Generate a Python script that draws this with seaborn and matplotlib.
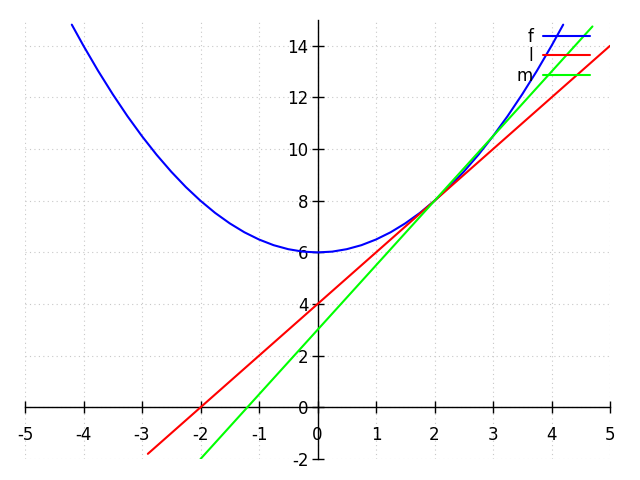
import numpy as np
import pandas as pd
import matplotlib
matplotlib.use("Agg")
import matplotlib.pyplot as plt
import seaborn as sns

# f: parabola
f_x = [-4.2, -4.0, -3.75, -3.5, -3.25, -3.0, -2.75, -2.5, -2.25, -2.0, -1.75, -1.5, -1.25, -1.0, -0.75, -0.5, -0.25,
       0.0, 0.25, 0.5, 0.75, 1.0, 1.25, 1.5, 1.75, 2.0, 2.25, 2.5, 2.75, 3.0, 3.25, 3.5, 3.75, 4.0, 4.2]
f_y = [14.82, 14.0, 13.03, 12.125, 11.28, 10.5, 9.78, 9.125, 8.53, 8.0, 7.53, 7.125, 6.78, 6.5, 6.28, 6.125, 6.03,
       6.0, 6.03, 6.125, 6.28, 6.5, 6.78, 7.125, 7.53, 8.0, 8.53, 9.125, 9.78, 10.5, 11.28, 12.125, 13.03, 14.0, 14.82]
# l: line (tangent)
l_x = [-2.9, 5.0]
l_y = [-1.8, 14.0]
# m: line (secant)
m_x = [-2.0, 4.7]
m_y = [-2.0, 14.75]

labels = ["f", "l", "m"]
colors = ["#0000ff", "#ff0000", "#00ff00"]

x_ticks = [-5, -4, -3, -2, -1, 0, 1, 2, 3, 4, 5]
y_ticks = [-2, 0, 2, 4, 6, 8, 10, 12, 14]

sns.set_style("white")
plt.rcParams['font.family'] = ['DejaVu Sans']
plt.rcParams['text.color'] = 'black'
plt.rcParams['xtick.color'] = 'black'
plt.rcParams['ytick.color'] = 'black'

fig = plt.figure(figsize=(6.4, 4.8), dpi=100)
ax = fig.add_axes([25/640, 1 - 459/480, 585/640, 439/480])

df = pd.concat([
    pd.DataFrame({"x": f_x, "y": f_y, "s": "f"}),
    pd.DataFrame({"x": l_x, "y": l_y, "s": "l"}),
    pd.DataFrame({"x": m_x, "y": m_y, "s": "m"}),
])
sns.lineplot(data=df, x="x", y="y", hue="s", palette=dict(zip(labels, colors)),
             sort=False, estimator=None, linewidth=1.5, ax=ax)

ax.set_xlim(-5, 5)
ax.set_ylim(-2, 15)
ax.set_xticks(x_ticks)
ax.set_yticks(y_ticks)
ax.set_xticklabels([str(v) for v in x_ticks])
ax.set_yticklabels([str(v) for v in y_ticks])
ax.set_xlabel("")
ax.set_ylabel("")

# grid
for xv in x_ticks:
    ax.axvline(xv, color="#c8c8c8", linestyle=(0, (1, 3)), linewidth=0.8, zorder=0)
for yv in y_ticks:
    ax.axhline(yv, color="#c8c8c8", linestyle=(0, (1, 3)), linewidth=0.8, zorder=0)

for s in ["top", "right"]:
    ax.spines[s].set_visible(False)
ax.spines["left"].set_position(("data", 0))
ax.spines["bottom"].set_position(("data", 0))
ax.spines["left"].set_bounds(-2, 15)
for s in ["left", "bottom"]:
    ax.spines[s].set_color("black")
    ax.spines[s].set_linewidth(1.0)
    ax.spines[s].set_zorder(1)

ax.tick_params(axis="x", bottom=True, direction="inout", length=9, width=1, pad=9,
               labelsize=12, color="black", labelcolor="black")
ax.tick_params(axis="y", left=True, direction="inout", length=9, width=1, pad=2,
               labelsize=12, color="black", labelcolor="black")

leg = ax.legend(loc="upper right", bbox_to_anchor=(0.977, 0.997), frameon=False,
                markerfirst=False, fontsize=12, handlelength=2.8, labelspacing=0.08,
                borderaxespad=0.0, handletextpad=0.6)
for line in leg.get_lines():
    line.set_linewidth(1.5)

fig.savefig("out.png", dpi=100)
